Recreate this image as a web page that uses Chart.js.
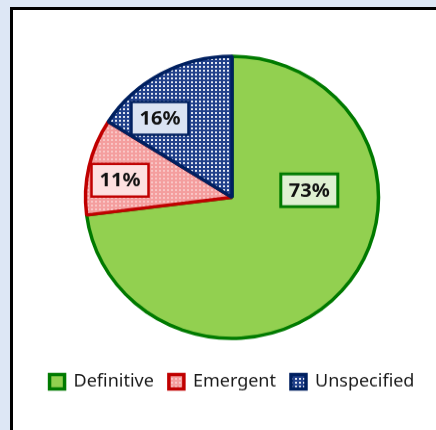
<!DOCTYPE html>
<html>
<head>
<meta charset="utf-8">
<script src="https://cdn.jsdelivr.net/npm/chart.js@4.4.0/dist/chart.umd.min.js"></script>
<style>
  html, body { margin: 0; padding: 0; background: #dde7f5; overflow: hidden; }
  .frame {
    position: absolute; left: 10px; top: 7px; width: 440px; height: 440px;
    background: #fff; border-left: 3px solid #000; border-top: 3px solid #000;
  }
  /* the source picture is a little squashed vertically */
  .wrap {
    position: absolute; left: 0; top: 0; width: 423px; height: 436px;
    transform: scaleY(0.963); transform-origin: 0 0;
  }
</style>
</head>
<body>
<div class="frame"><div class="wrap"><canvas id="pie"></canvas></div></div>
<script>
  let categories = ["Definitive", "Emergent", "Unspecified"];
  let shares = [73, 11, 16];

  const makePattern = (bg, dot) => {
    const tile = document.createElement("canvas");
    tile.width = 4;
    tile.height = 4;
    const t = tile.getContext("2d");
    t.fillStyle = bg;
    t.fillRect(0, 0, 4, 4);
    t.fillStyle = dot;
    t.fillRect(2, 2, 2, 2);
    return document.getElementById("pie").getContext("2d").createPattern(tile, "repeat");
  };

  let fills = ["#92d050", makePattern("#f49e9e", "#f9c6c6"), makePattern("#21408a", "#e3e8f3")];
  let borders = ["#007a00", "#c00000", "#002060"];
  let labelFills = ["#dff0d2", "#fde0e0", "#dae3f3"];

  // where excel put the value boxes (canvas degrees, fraction of radius)
  let labelPlace = [
    { angle: -5.4, dist: 0.53 },
    { angle: 189, dist: 0.774 },
    { angle: 228.7, dist: 0.745 },
  ];

  const sliceLabels = {
    id: "sliceLabels",
    afterDatasetsDraw(chart) {
      const ctx = chart.ctx;
      const meta = chart.getDatasetMeta(0);
      ctx.save();
      ctx.font = "bold 20px 'Noto Sans'";
      ctx.textAlign = "center";
      ctx.textBaseline = "middle";
      meta.data.forEach((arc, i) => {
        const { x, y, outerRadius } = arc.getProps(["x", "y", "outerRadius"], true);
        const a = (labelPlace[i].angle * Math.PI) / 180;
        const lx = x + Math.cos(a) * outerRadius * labelPlace[i].dist;
        const ly = y + Math.sin(a) * outerRadius * labelPlace[i].dist;
        const text = shares[i] + "%";
        const w = Math.round(ctx.measureText(text).width + 16);
        const h = 34;
        ctx.fillStyle = labelFills[i];
        ctx.fillRect(lx - w / 2, ly - h / 2, w, h);
        ctx.lineWidth = i === 0 ? 3 : 2.5;
        ctx.strokeStyle = borders[i];
        ctx.strokeRect(lx - w / 2, ly - h / 2, w, h);
        ctx.fillStyle = "#111";
        ctx.fillText(text, lx, ly + 1);
      });
      ctx.restore();
    },
  };

  new Chart(document.getElementById("pie"), {
    type: "pie",
    data: {
      labels: categories,
      datasets: [
        {
          data: shares,
          backgroundColor: fills,
          borderColor: borders,
          borderWidth: 3.5,
        },
      ],
    },
    options: {
      responsive: true,
      maintainAspectRatio: false,
      animation: false,
      radius: 146.5,
      layout: { padding: { top: 48, bottom: 31, left: 15, right: 0 } },
      plugins: {
        tooltip: { enabled: false },
        legend: {
          position: "bottom",
          title: { display: true, text: "", font: { size: 16, lineHeight: 1 }, padding: { top: 0, bottom: 5 } },
          labels: {
            color: "#1a1a1a",
            font: { family: "'Noto Sans'", size: 18 },
            boxWidth: 15,
            boxHeight: 15,
            padding: 15,
          },
        },
      },
    },
    plugins: [sliceLabels],
  });
</script>
</body>
</html>
